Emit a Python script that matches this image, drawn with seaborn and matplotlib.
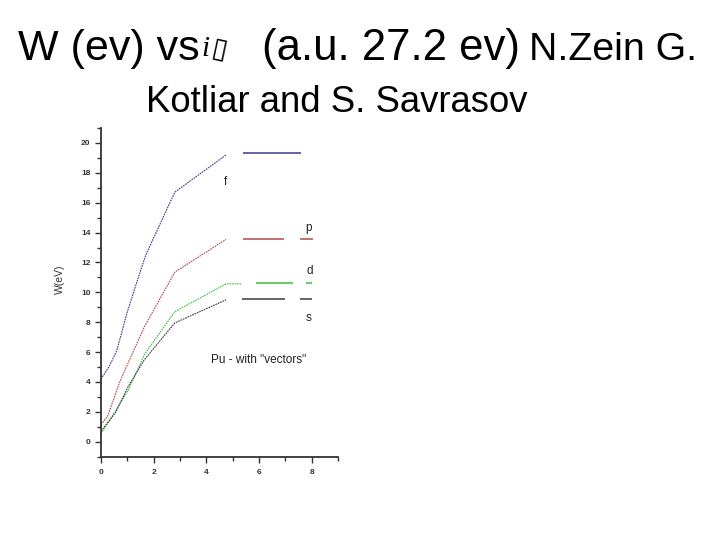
import matplotlib
matplotlib.use("Agg")
import matplotlib.pyplot as plt
from matplotlib.ticker import MultipleLocator
import seaborn as sns
import pandas as pd

# ---- data ----
f_x = [0, 0.3, 0.6, 1.0, 1.4, 1.7, 2.8, 4.75]
f_y = [4.2, 5.0, 6.1, 8.7, 10.9, 12.5, 16.7, 19.2]
p_x = [0, 0.25, 0.7, 1.15, 1.65, 2.8, 4.75]
p_y = [1.15, 1.7, 3.95, 5.75, 7.7, 11.35, 13.55]
d_x = [0, 0.35, 1.05, 1.65, 2.8, 4.75, 5.35]
d_y = [0.55, 1.5, 3.5, 5.85, 8.7, 10.57, 10.57]
s_x = [0, 0.55, 1.05, 1.65, 2.8, 4.75]
s_y = [0.7, 1.95, 3.75, 5.5, 7.95, 9.5]

# flat levels: (series, y, x start, x end)
level_series = ["f", "p", "p", "d", "d", "s", "s"]
level_y = [19.3, 13.55, 13.6, 10.62, 10.65, 9.55, 9.57]
level_x0 = [5.4, 5.4, 7.55, 5.9, 7.8, 5.35, 7.55]
level_x1 = [7.6, 6.95, 8.05, 7.3, 8.0, 6.98, 8.03]

series_names = ["f", "p", "d", "s"]
label_x = [4.74, 7.87, 7.94, 7.87]
label_y = [17.4, 14.3, 11.4, 8.3]
note_text = 'Pu - with "vectors"'

colors = {"f": "#3c3c8c", "p": "#b04a4a", "d": "#3cc03c", "s": "#383848"}

rows = []
for name, xs, ys in [("f", f_x, f_y), ("p", p_x, p_y), ("d", d_x, d_y), ("s", s_x, s_y)]:
    for x, y in zip(xs, ys):
        rows.append({"series": name, "x": x, "W": y})
df = pd.DataFrame(rows)

sns.set_style("ticks")
plt.rcParams["font.family"] = ["Liberation Sans", "DejaVu Sans"]

fig = plt.figure(figsize=(7.2, 5.4), dpi=100)
ax = fig.add_axes([101 / 720, 1 - 456.7 / 540, (338 - 101) / 720, (456.7 - 128) / 540])

sns.lineplot(data=df, x="x", y="W", hue="series", palette=colors, ax=ax,
             legend=False, linewidth=0.8, sort=False, estimator=None)
for ln in ax.get_lines():
    ln.set_linestyle((0, (1.5, 0.8)))

for name, y, x0, x1 in zip(level_series, level_y, level_x0, level_x1):
    ax.hlines(y, x0, x1, color=colors[name], linewidth=1.1)

for name, x, y in zip(series_names, label_x, label_y):
    ax.text(x, y, name, fontsize=8.5, ha="center", va="center", color="#222222")
ax.text(4.17, 5.5, note_text, fontsize=8.5, ha="left", va="center", color="#222222")

ax.set_xlim(0, 9)
ax.set_ylim(-1, 21)
ax.set_xticks(range(0, 9, 2))
ax.set_yticks(range(0, 21, 2))
ax.xaxis.set_minor_locator(MultipleLocator(1))
ax.yaxis.set_minor_locator(MultipleLocator(1))
ax.tick_params(which="major", length=4.5, width=1, color="#333333",
               labelsize=6, labelcolor="#333333", pad=3)
ax.tick_params(axis="x", which="major", pad=4)
ax.tick_params(which="minor", length=3, width=1, color="#333333")
for lab in ax.get_xticklabels() + ax.get_yticklabels():
    lab.set_fontweight("bold")
sns.despine(ax=ax)
for sp in ["left", "bottom"]:
    ax.spines[sp].set_linewidth(1.3)
    ax.spines[sp].set_color("#333333")
ax.set_xlabel("")
ax.set_ylabel("W(eV)", fontsize=7.5, color="#333333")
ax.yaxis.set_label_coords(-0.15, 0.54)
ax.set_facecolor("white")

# ---- title pieces ----
def ft(xpx, ypx, s, size, **kw):
    return fig.text(xpx / 720, 1 - ypx / 540, s, fontsize=size, ha="left",
                    va="baseline", color="black", **kw)

ft(18, 60, "W (ev) vs", 31)
ft(201, 56, "i", 21, style="italic", family=["Liberation Serif"])
ft(210, 56, "\u25AF", 20, family=["DejaVu Sans"], rotation=-12,
   rotation_mode="anchor")
ft(262, 60, "(a.u. 27.2 ev)", 31.5)
ft(529, 60, "N.Zein G.", 28.3)
ft(146, 112, "Kotliar and S. Savrasov", 26.3)

fig.savefig("out.png", dpi=100, facecolor="white")
